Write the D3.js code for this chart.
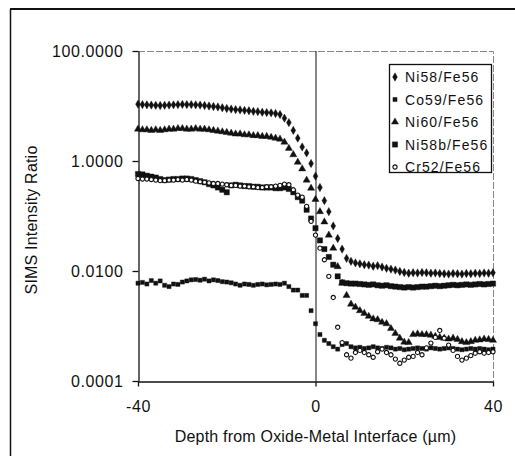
<!DOCTYPE html>
<html>
<head>
<meta charset="utf-8">
<script src="https://cdn.jsdelivr.net/npm/d3@7"></script>
<style>
body { margin: 0; background: #fff; }
svg text { font-family: "Liberation Sans", Arial, sans-serif; fill: #111; }
</style>
</head>
<body>
<div class="chart"></div>
<script>
// depth positions (um), one reading per micron
var depth = d3.range(-40, 41);

var ni58 = [10.8,10.6,10.5,10.4,10.3,10.2,10.3,10.4,10.5,10.6,10.7,10.6,10.6,10.5,10.4,10.2,10.0,9.8,9.6,9.3,9.0,8.8,8.6,8.5,8.3,8.2,8.0,7.9,7.7,7.6,7.5,7.3,7.0,6.0,5.0,3.6,2.6,1.8,1.4,0.9,0.53,
  0.33,0.19,0.12,0.066,0.039,0.025,0.017,0.015,0.014,0.0135,0.013,0.0128,0.0122,0.0125,0.0118,0.0112,0.0108,0.0104,0.0098,0.0094,0.0091,0.0093,0.0092,0.0094,0.0093,0.0091,0.0092,0.0090,0.0089,0.0088,0.0090,0.0089,0.0088,0.0090,0.0089,0.0091,0.0090,0.0092,0.0091,0.0093];

var co59 = [0.0060,0.0062,0.0058,0.0067,0.0060,0.0066,0.0055,0.0052,0.0058,0.0057,0.0063,0.0066,0.0069,0.0070,0.0068,0.0071,0.0066,0.0069,0.0067,0.0064,0.0063,0.0061,0.0058,0.0055,0.0058,0.0057,0.0055,0.0057,0.0058,0.0056,0.0057,0.0058,0.0057,0.0060,0.0052,0.0045,0.0045,0.0036,0.0036,0.0019,0.0011,
  0.0007,0.00055,0.00048,0.00042,0.00038,0.00046,0.00048,0.00042,0.00040,0.00041,0.00039,0.00040,0.00042,0.00040,0.00039,0.00041,0.00040,0.00038,0.00039,0.00037,0.00038,0.00039,0.00040,0.00039,0.00038,0.00040,0.00039,0.00038,0.00039,0.00040,0.00039,0.00038,0.00037,0.00038,0.00039,0.00038,0.00039,0.00038,0.00037,0.00038];

var ni60 = [3.8,3.7,3.7,3.6,3.7,3.6,3.7,3.8,3.8,3.9,3.9,3.8,3.8,3.9,3.8,3.8,3.7,3.6,3.5,3.4,3.3,3.2,3.1,3.1,3.0,3.0,2.9,2.9,2.8,2.8,2.7,2.6,2.5,2.2,1.7,1.3,0.95,0.72,0.45,0.32,0.2,
  0.12,0.078,0.045,0.026,0.012,0.006,0.0036,0.0025,0.0022,0.0019,0.0017,0.0015,0.00135,0.0013,0.00117,0.0011,0.0009,0.00073,0.0006,0.00051,0.0005,0.0007,0.00072,0.0007,0.0007,0.00068,0.00065,0.00062,0.0006,0.00058,0.0006,0.00057,0.00052,0.0005,0.00052,0.00055,0.00056,0.00058,0.00057,0.00055];

var ni58b = [0.58,0.57,0.54,0.52,0.50,0.47,0.45,0.46,0.47,0.47,0.48,0.48,0.47,0.45,0.43,0.41,0.38,0.36,0.33,0.30,0.27,0.36,0.37,0.36,0.35,0.35,0.34,0.34,0.33,0.33,0.33,0.32,0.32,0.33,0.31,0.27,0.22,0.19,0.13,0.09,0.06,
  0.036,0.025,0.018,0.013,0.008,0.0062,0.0060,0.0059,0.0059,0.0058,0.0057,0.0056,0.0057,0.0055,0.0054,0.0055,0.0053,0.0052,0.0051,0.0050,0.0051,0.0050,0.0051,0.0052,0.0052,0.0053,0.0054,0.0053,0.0054,0.0055,0.0056,0.0055,0.0056,0.0057,0.0056,0.0057,0.0058,0.0057,0.0058,0.0059];

var cr52 = [0.48,0.47,0.47,0.46,0.45,0.44,0.44,0.45,0.45,0.46,0.45,0.46,0.45,0.43,0.42,0.41,0.40,0.39,0.39,0.38,0.37,0.36,0.36,0.35,0.35,0.34,0.34,0.33,0.33,0.34,0.34,0.35,0.36,0.38,0.37,0.30,0.24,0.22,0.15,0.08,0.045,
  0.026,0.016,0.008,0.0033,0.00095,0.0005,0.0003,0.00026,0.00033,0.00036,0.00033,0.0003,0.00027,0.00034,0.00038,0.00033,0.0003,0.00025,0.00021,0.00024,0.00027,0.00028,0.00033,0.0003,0.0004,0.00049,0.00062,0.00083,0.0006,0.00045,0.00036,0.00028,0.00024,0.00026,0.00029,0.00032,0.00034,0.00032,0.00033,0.00034];

var seriesNames = ["Ni58/Fe56", "Co59/Fe56", "Ni60/Fe56", "Ni58b/Fe56", "Cr52/Fe56"];
var seriesValues = [ni58, co59, ni60, ni58b, cr52];
var yTicks = [0.0001, 0.01, 1, 100];
var xTicks = [-40, 0, 40];

var W = 515, H = 456;
var plot = {left: 138, right: 493, top: 51, bottom: 381};

// marker shape and size per series
var markers = [
  {type: d3.symbolDiamond, size: 20, fill: "#111"},
  {type: d3.symbolSquare, size: 17, fill: "#111"},
  {type: d3.symbolTriangle, size: 22, fill: "#111"},
  {type: d3.symbolSquare, size: 28, fill: "#111"},
  {type: d3.symbolCircle, size: 14, fill: "#fff"}
];

var x = d3.scaleLinear().domain([-40, 40]).range([plot.left, plot.right]);
var y = d3.scaleLog().domain([0.0001, 100]).range([plot.bottom, plot.top]);

var svg = d3.select(".chart").append("svg")
  .attr("width", W)
  .attr("height", H);

// outer frame (top and left edges visible)
svg.append("line").attr("x1", 10).attr("x2", W).attr("y1", 9).attr("y2", 9)
  .attr("stroke", "#111").attr("stroke-width", 2);
svg.append("line").attr("x1", 10.5).attr("x2", 10.5).attr("y1", 9).attr("y2", H)
  .attr("stroke", "#111").attr("stroke-width", 1.5);

// top and right plot borders, faint
svg.append("path")
  .attr("d", "M" + plot.left + "," + (plot.top + 0.5) + "H" + (plot.right + 0.5) + "V" + plot.bottom)
  .attr("fill", "none").attr("stroke", "#888").attr("stroke-dasharray", "7,2");

// zero line at the interface
svg.append("line")
  .attr("x1", x(0) + 0.5).attr("x2", x(0) + 0.5)
  .attr("y1", plot.top).attr("y2", plot.bottom)
  .attr("stroke", "#111");

svg.append("g")
  .attr("transform", "translate(" + (plot.left + 0.5) + ",0)")
  .call(d3.axisLeft(y).tickValues(yTicks).tickFormat(d3.format(".4f")).tickSize(6).tickSizeOuter(0).tickPadding(9));

svg.append("g")
  .attr("transform", "translate(0," + (plot.bottom + 0.5) + ")")
  .call(d3.axisBottom(x).tickValues(xTicks).tickFormat(function(d) { return String(d); })
    .tickSize(5).tickSizeOuter(0).tickPadding(14));

svg.selectAll(".domain, .tick line").attr("stroke", "#111").attr("stroke-width", 1.3);
svg.selectAll(".tick text")
  .style("font-size", "16px")
  .style("letter-spacing", "0.6px")
  .attr("fill", "#111");

// data points
seriesValues.forEach(function(vals, s) {
  var m = markers[s];
  var sym = d3.symbol().type(m.type).size(m.size);
  svg.append("g").selectAll("path")
    .data(vals)
    .enter().append("path")
    .attr("transform", function(d, i) { return "translate(" + x(depth[i]) + "," + y(d) + ")"; })
    .attr("d", sym)
    .attr("fill", m.fill)
    .attr("stroke", "#111")
    .attr("stroke-width", s == 4 ? 1.1 : 0.4);
});

// axis titles
svg.append("text")
  .attr("x", (plot.left + plot.right) / 2)
  .attr("y", 442)
  .attr("text-anchor", "middle")
  .style("font-size", "16px")
  .style("letter-spacing", "0.2px")
  .text("Depth from Oxide-Metal Interface (\u00b5m)");

svg.append("text")
  .attr("transform", "translate(37," + ((plot.top + plot.bottom) / 2 + 4) + ") rotate(-90)")
  .attr("text-anchor", "middle")
  .style("font-size", "16px")
  .style("letter-spacing", "0.2px")
  .text("SIMS Intensity Ratio");

// legend
var legend = svg.append("g").attr("transform", "translate(389,64)");
legend.append("rect")
  .attr("x", 0.5).attr("y", 0.5)
  .attr("width", 102).attr("height", 108)
  .attr("fill", "#fff").attr("stroke", "#111").attr("stroke-width", 1.3);

var rows = legend.selectAll(".row")
  .data(seriesNames)
  .enter().append("g")
  .attr("class", "row")
  .attr("transform", function(d, i) { return "translate(0," + (13 + i * 22.5) + ")"; });

rows.append("path")
  .attr("transform", "translate(6,0)")
  .attr("d", function(d, i) { return d3.symbol().type(markers[i].type).size(markers[i].size)(); })
  .attr("fill", function(d, i) { return markers[i].fill; })
  .attr("stroke", "#111")
  .attr("stroke-width", function(d, i) { return i == 4 ? 1.1 : 0.4; });

rows.append("text")
  .attr("x", 16)
  .attr("dy", "0.36em")
  .style("font-size", "14px")
  .style("letter-spacing", "1.1px")
  .text(function(d) { return d; });
</script>
</body>
</html>
